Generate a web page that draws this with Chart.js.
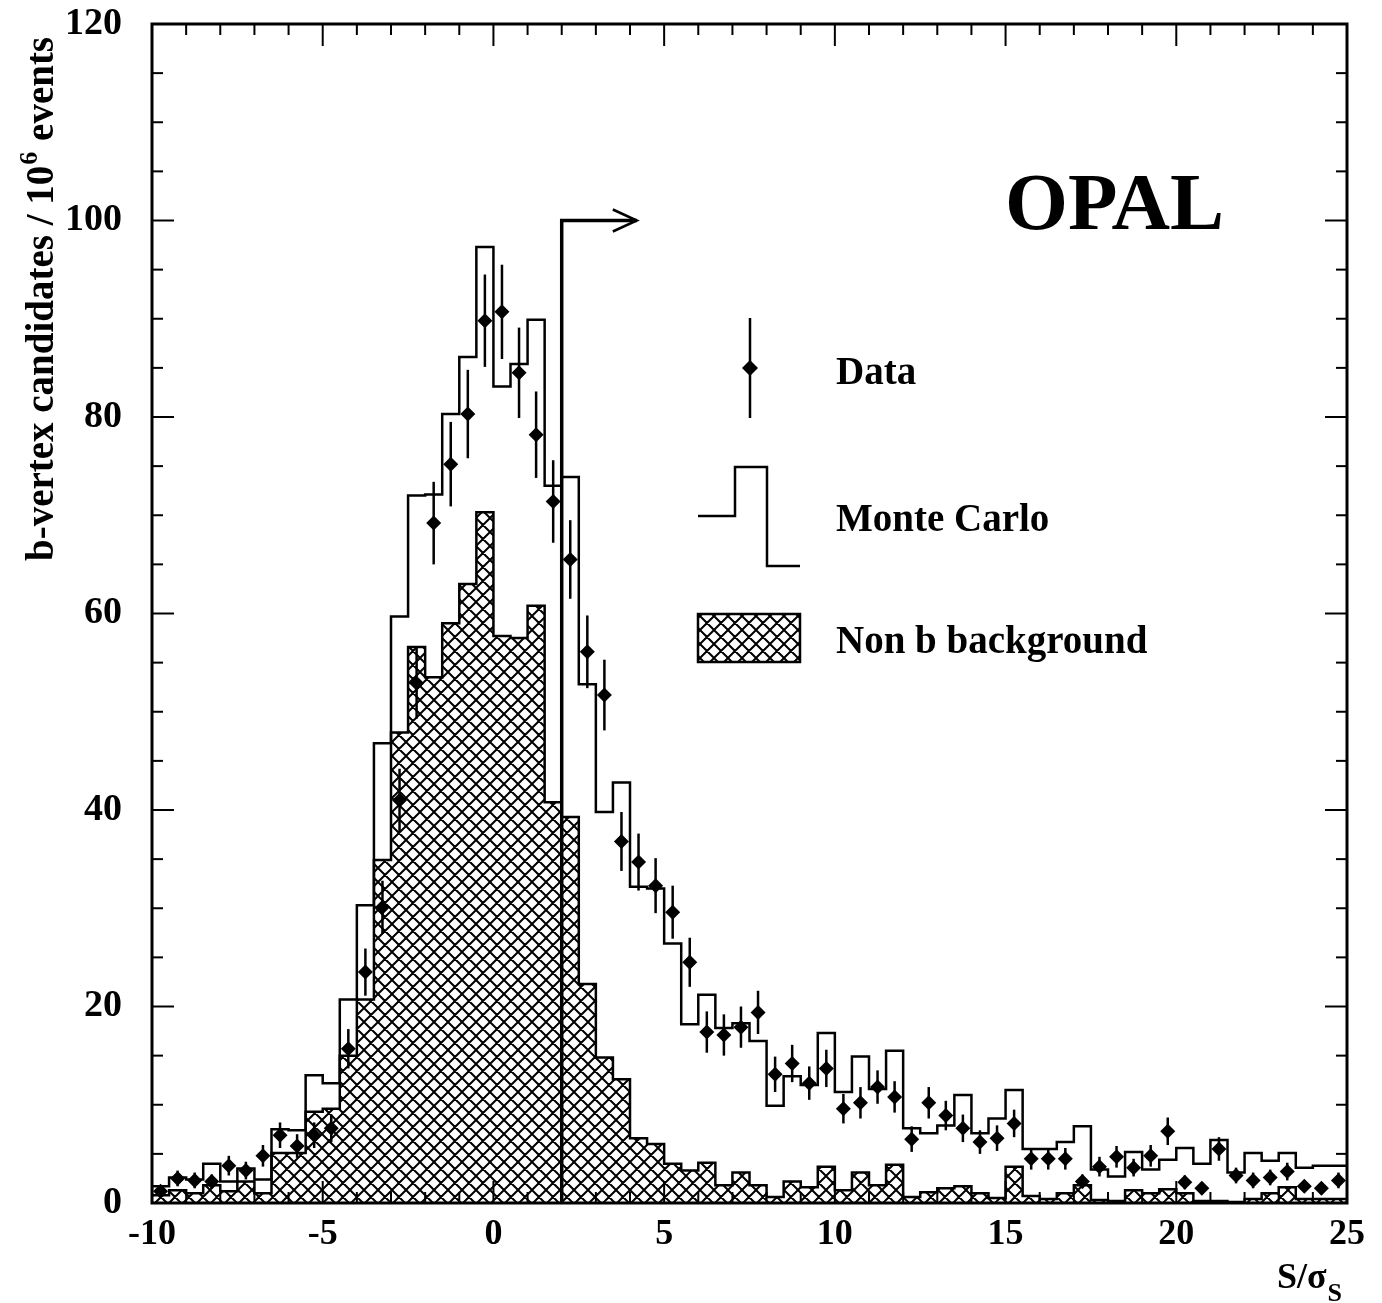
<!DOCTYPE html>
<html>
<head>
<meta charset="utf-8">
<title>OPAL b-vertex candidates</title>
<script src="https://cdn.jsdelivr.net/npm/chart.js@4.4.0/dist/chart.umd.min.js"></script>
<style>
  body{margin:0;background:#fff}
  #wrap{width:1382px;height:1303px}
</style>
</head>
<body>
<div id="wrap"><canvas id="myChart" width="1382" height="1303"></canvas></div>
<script>
// bins of S/sigma_S, 0.5 wide
const binEdges = [-10,-9.5,-9,-8.5,-8,-7.5,-7,-6.5,-6,-5.5,-5,-4.5,-4,-3.5,-3,-2.5,-2,-1.5,-1,-0.5,
    0,0.5,1,1.5,2,2.5,3,3.5,4,4.5,5,5.5,6,6.5,7,7.5,8,8.5,9,9.5,10,10.5,11,11.5,12,12.5,13,13.5,14,14.5,
    15,15.5,16,16.5,17,17.5,18,18.5,19,19.5,20,20.5,21,21.5,22,22.5,23,23.5,24,24.5,25]

const dataValues = [1.2,2.5,2.3,2.2,3.8,3.3,4.8,6.9,5.8,6.9,
    7.6,15.7,23.5,30.1,41.0,52.9,69.2,75.2,80.3,89.8,
    90.7,84.5,78.2,71.4,65.5,56.1,51.7,36.8,34.7,32.3,
    29.6,24.5,17.4,17.1,17.9,19.4,13.1,14.2,12.2,13.7,
    9.6,10.2,11.8,10.8,6.5,10.2,8.9,7.6,6.2,6.6,
    8.1,4.5,4.5,4.5,2.2,3.7,4.7,3.6,4.8,7.3,
    2.1,1.5,5.5,2.8,2.3,2.6,3.2,1.7,1.5,2.3]

const dataErrors = [0.5,0.8,0.8,0.7,1.0,0.9,1.1,1.3,1.2,1.3,
    1.4,2.0,2.4,2.7,3.2,3.6,4.2,4.3,4.5,4.7,
    4.8,4.6,4.4,4.2,4.0,3.7,3.6,3.0,2.9,2.8,
    2.7,2.5,2.1,2.1,2.1,2.2,1.8,1.9,1.7,1.9,
    1.5,1.6,1.7,1.6,1.3,1.6,1.5,1.4,1.2,1.3,
    1.4,1.1,1.1,1.1,0.7,1.0,1.1,0.9,1.1,1.4,
    0.7,0.6,1.2,0.8,0.8,0.8,0.9,0.6,0.6,0.8]

const mcValues = [0.8,1.7,2.6,2.4,4.0,2.2,3.5,2.4,7.5,7.4,
    13.0,12.2,20.7,30.3,46.8,59.7,72.0,72.1,80.3,86.1,
    97.3,83.1,85.4,89.9,73.0,73.9,52.8,39.8,42.8,32.2,
    32.0,26.4,18.2,21.2,17.8,18.3,16.5,9.9,12.9,12.0,
    17.3,11.3,14.9,11.6,15.5,7.6,7.1,7.9,11.0,7.1,
    8.6,11.5,5.5,5.5,6.2,7.8,3.4,2.7,5.2,3.4,
    4.4,5.6,4.0,6.4,3.1,5.1,4.3,5.1,3.6,3.8]

const nonbValues = [0.6,0.8,1.3,1.0,1.8,1.2,2.2,1.0,5.1,5.1,
    9.3,9.6,15.0,20.7,34.9,47.9,56.6,53.5,59.0,63.0,
    70.3,57.7,57.5,60.8,40.8,39.3,22.3,14.8,12.6,6.6,
    6.0,4.0,3.3,4.1,1.8,3.1,1.8,0.6,2.2,1.6,
    3.7,1.3,3.1,1.8,3.9,0.6,1.1,1.5,1.7,1.0,
    0.5,3.7,0.7,0.4,1.0,1.8,0.3,0.2,1.3,1.0,
    1.4,1.0,0.2,0.2,0.1,0.4,1.0,1.6,0.4,0.4]

const xTicks = [-10,-5,0,5,10,15,20,25]
const yTicks = [0,20,40,60,80,100,120]

// cut S/sigma > 2 with arrow
const cutX = 2
const cutTop = 100
const arrowEnd = 4.2

const serif = "'Liberation Serif', 'Times New Roman', serif"

const stepPoints = (vals) =>{
    const pts = vals.map((v, i) => ({x: binEdges[i], y: v}))
    pts.push({x: binEdges[binEdges.length - 1], y: vals[vals.length - 1]})
    return pts
}

const centerPoints = (vals) => vals.map((v, i) => ({x: (binEdges[i] + binEdges[i + 1]) / 2, y: v}))

const crossHatch = () =>{
    const p = 14
    const c = document.createElement("canvas")
    c.width = p
    c.height = p
    const g = c.getContext("2d")
    g.fillStyle = "#fff"
    g.fillRect(0, 0, p, p)
    g.strokeStyle = "#000"
    g.lineWidth = 2
    g.beginPath()
    for (let k = -1; k <= 1; k++){
        g.moveTo(k * p, 0); g.lineTo(k * p + p, p)
        g.moveTo(k * p, p); g.lineTo(k * p + p, 0)
    }
    g.stroke()
    return g.createPattern(c, "repeat")
}

const line = (ctx, x1, y1, x2, y2) =>{
    ctx.beginPath()
    ctx.moveTo(x1, y1)
    ctx.lineTo(x2, y2)
    ctx.stroke()
}

const decor = {
    id: "decor",
    beforeDraw(chart){
        const ctx = chart.ctx
        ctx.save()
        ctx.fillStyle = "#fff"
        ctx.fillRect(0, 0, chart.width, chart.height)
        ctx.restore()
    },
    afterDatasetsDraw(chart){
        const ctx = chart.ctx
        const {x, y} = chart.scales
        const a = chart.chartArea
        ctx.save()
        ctx.strokeStyle = "#000"
        ctx.fillStyle = "#000"

        // error bars
        ctx.lineWidth = 2.5
        dataValues.forEach((v, i) =>{
            const px = x.getPixelForValue((binEdges[i] + binEdges[i + 1]) / 2)
            line(ctx, px, y.getPixelForValue(v - dataErrors[i]), px, y.getPixelForValue(v + dataErrors[i]))
        })

        // arrow head
        const ax = x.getPixelForValue(arrowEnd)
        const ay = y.getPixelForValue(cutTop)
        ctx.lineWidth = 2.5
        ctx.beginPath()
        ctx.moveTo(ax - 24, ay - 11)
        ctx.lineTo(ax, ay)
        ctx.lineTo(ax - 24, ay + 11)
        ctx.stroke()

        // frame + inside ticks
        ctx.lineWidth = 3
        ctx.strokeRect(a.left, a.top, a.right - a.left, a.bottom - a.top)
        ctx.lineWidth = 2
        for (let v = -10; v <= 25; v++){
            const len = v % 5 === 0 ? 22 : 11
            const px = x.getPixelForValue(v)
            line(ctx, px, a.bottom, px, a.bottom - len)
            line(ctx, px, a.top, px, a.top + len)
        }
        for (let v = 0; v <= 120; v += 5){
            const len = v % 20 === 0 ? 22 : 11
            const py = y.getPixelForValue(v)
            line(ctx, a.left, py, a.left + len, py)
            line(ctx, a.right, py, a.right - len, py)
        }

        // OPAL
        ctx.font = "bold 81px " + serif
        ctx.textBaseline = "alphabetic"
        ctx.fillText("OPAL", 1005, 229)

        // legend
        ctx.font = "bold 39px " + serif
        ctx.lineWidth = 2.5
        line(ctx, 750, 318, 750, 418)
        ctx.beginPath()
        ctx.moveTo(750, 360); ctx.lineTo(758, 368); ctx.lineTo(750, 376); ctx.lineTo(742, 368)
        ctx.closePath()
        ctx.fill()
        ctx.fillText("Data", 836, 384)

        ctx.beginPath()
        ctx.moveTo(698, 516); ctx.lineTo(735, 516); ctx.lineTo(735, 467)
        ctx.lineTo(767, 467); ctx.lineTo(767, 566); ctx.lineTo(800, 566)
        ctx.stroke()
        ctx.fillText("Monte Carlo", 836, 531)

        ctx.fillStyle = crossHatch()
        ctx.fillRect(698, 614, 102, 48)
        ctx.strokeRect(698, 614, 102, 48)
        ctx.fillStyle = "#000"
        ctx.fillText("Non b background", 836, 653)

        // y title with superscript
        ctx.save()
        ctx.translate(53, 300)
        ctx.rotate(-Math.PI / 2)
        const t1 = "b-vertex candidates / 10"
        const t2 = " events"
        ctx.font = "bold 39px " + serif
        const w1 = ctx.measureText(t1).width
        const w2 = ctx.measureText(t2).width
        ctx.font = "bold 26px " + serif
        const w6 = ctx.measureText("6").width
        let sx = -(w1 + w6 + w2) / 2
        ctx.font = "bold 39px " + serif
        ctx.fillText(t1, sx, 0)
        ctx.font = "bold 26px " + serif
        ctx.fillText("6", sx + w1 + 1, -16)
        ctx.font = "bold 39px " + serif
        ctx.fillText(t2, sx + w1 + w6 + 2, 0)
        ctx.restore()

        // x title
        ctx.font = "bold 36px " + serif
        ctx.fillText("S/\u03c3", 1277, 1288)
        const ws = ctx.measureText("S/\u03c3").width
        ctx.font = "bold 26px " + serif
        ctx.fillText("S", 1277 + ws + 1, 1301)

        ctx.restore()
    }
}

const drawChart = () =>{
    const ctx = document.getElementById("myChart").getContext("2d")

    const data = {
        datasets: [
            {
                label: "Data",
                data: centerPoints(dataValues),
                showLine: false,
                pointStyle: "rectRot",
                pointRadius: 7.5,
                backgroundColor: "#000",
                borderColor: "#000",
                borderWidth: 0,
                order: 0,
            },
            {
                label: "Cut",
                data: [{x: cutX, y: 0}, {x: cutX, y: cutTop}, {x: arrowEnd, y: cutTop}],
                borderColor: "#000",
                borderWidth: 3.5,
                pointRadius: 0,
                fill: false,
                order: 1,
            },
            {
                label: "Monte Carlo",
                data: stepPoints(mcValues),
                stepped: "after",
                borderColor: "#000",
                borderWidth: 2.5,
                pointRadius: 0,
                fill: false,
                order: 2,
            },
            {
                label: "Non b background",
                data: stepPoints(nonbValues),
                stepped: "after",
                borderColor: "#000",
                borderWidth: 2.5,
                backgroundColor: crossHatch(),
                pointRadius: 0,
                fill: "origin",
                order: 3,
            },
        ],
    }

    const config = {
        type: "line",
        data: data,
        plugins: [decor],
        options: {
            responsive: false,
            animation: false,
            layout: {padding: {top: 24, right: 35, left: 0, bottom: 0}},
            plugins: {
                legend: {display: false},
                tooltip: {enabled: false},
            },
            scales: {
                x: {
                    type: "linear",
                    min: -10,
                    max: 25,
                    afterBuildTicks: (s) =>{ s.ticks = xTicks.map(v => ({value: v})) },
                    afterFit: (s) =>{
                        s.height = 100
                        s.paddingLeft = 0
                        s.paddingRight = 0
                    },
                    grid: {display: false, drawTicks: false},
                    border: {display: false},
                    ticks: {
                        color: "#000",
                        padding: 10,
                        maxRotation: 0,
                        autoSkip: false,
                        font: {family: serif, size: 36, weight: "bold"},
                    },
                },
                y: {
                    min: 0,
                    max: 120,
                    afterBuildTicks: (s) =>{ s.ticks = yTicks.map(v => ({value: v})) },
                    afterFit: (s) =>{
                        s.width = 152
                        s.paddingTop = 0
                        s.paddingBottom = 0
                    },
                    grid: {display: false, drawTicks: false},
                    border: {display: false},
                    ticks: {
                        color: "#000",
                        padding: 30,
                        autoSkip: false,
                        font: {family: serif, size: 38, weight: "bold"},
                    },
                },
            },
        },
    }

    new Chart(ctx, config)
}

drawChart()
</script>
</body>
</html>
